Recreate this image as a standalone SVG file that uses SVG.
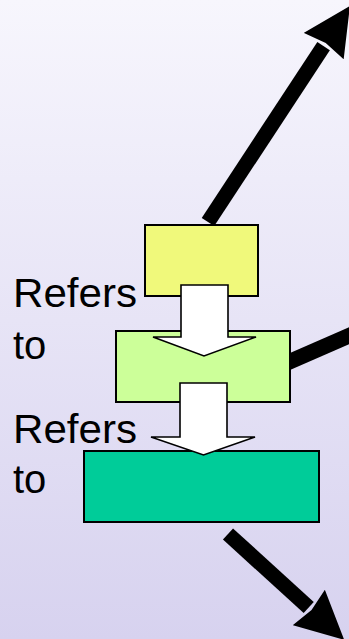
<svg xmlns="http://www.w3.org/2000/svg" width="349" height="639" viewBox="0 0 349 639">
  <defs>
    <linearGradient id="bg" x1="0" y1="0" x2="0" y2="1">
      <stop offset="0" stop-color="#f7f6fd"/>
      <stop offset="1" stop-color="#d7d2ef"/>
    </linearGradient>
    <marker id="head" viewBox="0 0 10 10" refX="0" refY="5" markerWidth="3.2" markerHeight="3.2" orient="auto" markerUnits="strokeWidth">
      <path d="M0,0 L10,5 L0,10 L0.8,5 z" fill="#000"/>
    </marker>
    <style>
      .box { stroke: #000; stroke-width: 2; }
      .big { stroke: #000; stroke-width: 15; fill: none; }
      .blk { fill: #fff; stroke: #000; stroke-width: 1.6; stroke-linejoin: miter; }
      .lbl { font-family: "Liberation Sans", Arial, sans-serif; font-size: 40px; fill: #000; }
    </style>
  </defs>
  <rect x="0" y="0" width="349" height="639" fill="url(#bg)"/>

  <g id="labels">
    <text class="lbl" x="13" y="307" textLength="124" lengthAdjust="spacingAndGlyphs">Refers</text>
    <text class="lbl" x="13" y="359">to</text>
    <text class="lbl" x="13" y="443" textLength="124" lengthAdjust="spacingAndGlyphs">Refers</text>
    <text class="lbl" x="13" y="493">to</text>
  </g>

  <g id="node-yellow">
    <rect class="box" x="145" y="225" width="113" height="71" fill="#f0f97b"/>
  </g>
  <g id="node-lightgreen">
    <rect class="box" x="116" y="331" width="174" height="71" fill="#ccff99"/>
  </g>
  <g id="node-teal">
    <rect class="box" x="84" y="451" width="235" height="71" fill="#00cc99"/>
  </g>

  <g id="connectors">
    <line class="big" x1="208" y1="222" x2="323.6" y2="46.1" marker-end="url(#head)"/>
    <polygon points="290,353 352,326 352,343 290,370" fill="#000"/>
    <line class="big" x1="228" y1="534" x2="308.7" y2="607.5" marker-end="url(#head)"/>
    <polygon class="blk" points="181,285 228,285 228,337 256,337 204,356 153,337 181,337"/>
    <polygon class="blk" points="180,383 227,383 227,437 255,437 203.5,455 151,437 180,437"/>
  </g>
</svg>
